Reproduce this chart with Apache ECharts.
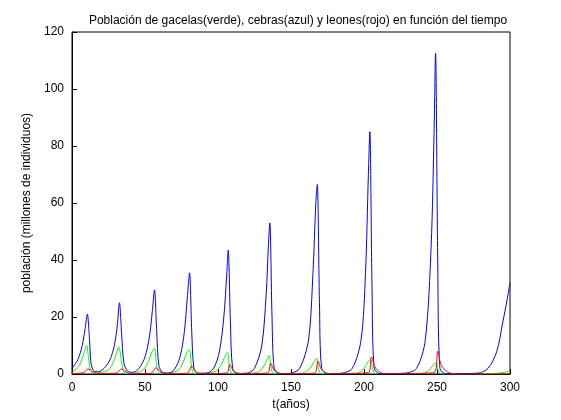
<!DOCTYPE html>
<html>
<head>
<meta charset="utf-8">
<script src="https://cdn.jsdelivr.net/npm/echarts@6/dist/echarts.min.js"></script>
<style>html,body{margin:0;padding:0;background:#fff}#chart{width:561px;height:420px}</style>
</head>
<body>
<div id="chart"></div>
<script>
// values: [t, poblacion]
var cebras = [[0,2],[4,5],[7,10],[9,16],[10.5,21],[12,12],[13,4],[15,1],[18,0.8],[22,2],[26,5],[29,10],[31,17],[32.5,25],[34,14],[35.5,4],[38,1],[42,0.6],[46,2],[50,6],[53,13],[55,22],[56.5,29.5],[58,15],[59.5,3],[62,0.6],[66,0.3],[70,1.5],[74,6],[77,15],[79,27],[80.5,35.5],[82,15],[83.5,2],[86,0.3],[92,0.3],[97,2],[101,8],[104,20],[106,35],[107,43.5],[108.5,18],[110,2],[113,0.2],[120,0.3],[125,2],[130,10],[133,28],[134.5,45],[135.5,53],[137,20],[138.5,2],[142,0.1],[150,0.3],[156,2],[162,12],[165,35],[167,60],[168,66.5],[169.5,25],[171,2],[175,0.1],[185,0.3],[192,2],[198,12],[201,35],[203,70],[204,85],[205.5,30],[207,2],[211,0.1],[228,0.3],[236,2],[242,12],[246,45],[248,85],[249,112.5],[250.5,40],[252,2],[256,0.1],[278,0.3],[285,2],[291,8],[295,18],[298,26],[300,32]];
var gacelas = [[0,0.5],[5,3],[8,7],[10,10],[11.5,5],[13,1],[16,0.3],[25,1.5],[29,5],[32,9.5],[34,4],[36,0.5],[40,0.1],[48,1.2],[52,4],[55,8],[56.5,9],[58,3],[60,0.3],[72,1],[76,4],[79,8],[80.5,8.5],[82,2],[84,0.1],[98,0.8],[102,3],[105,6.5],[106.5,7.5],[108,2],[110,0.1],[127,0.5],[131,2.5],[134,5.5],[135,6.5],[136.5,2],[138,0.1],[158,0.3],[163,2],[166,4.5],[167.5,5.5],[169,1.5],[171,0.1],[195,0.3],[200,2],[203,4.5],[204.5,5],[206,1.5],[208,0.1],[240,0.2],[245,1.5],[248,3.5],[249.5,4],[251,1],[253,0],[290,0.2],[300,1]];
var leones = [[0,0.2],[8,0.5],[11,1.8],[14,0.8],[18,0.2],[30,0.3],[34,1.8],[37,0.7],[42,0.1],[54,0.2],[57.5,2.2],[61,0.6],[66,0.1],[79,0.3],[82,2.8],[85,0.6],[90,0.1],[106,0.4],[108,3.3],[111,0.8],[117,0.1],[134,0.4],[136,3.8],[139,1],[145,0.1],[166,0.3],[168.5,4.5],[171,1.5],[176,0.1],[203,0.5],[205,6],[208,2],[214,0.1],[248,0.5],[250.5,8],[253,3],[258,0.5],[265,0],[300,0]];

var chart = echarts.init(document.getElementById('chart'));
var txt = {color: '#000', fontFamily: 'Liberation Sans', fontSize: 12};

function linea(data, color) {
    return {type: 'line', data: data, showSymbol: false, smooth: 0.3, animation: false,
        lineStyle: {color: color, width: 1}};
}

chart.setOption({
    backgroundColor: '#fff',
    title: {text: 'Población de gacelas(verde), cebras(azul) y leones(rojo) en función del tiempo',
        left: 293, top: 10, textAlign: 'center',
        textStyle: {color: '#000', fontFamily: 'Liberation Sans', fontSize: 12, fontWeight: 'normal'}},
    grid: {left: 72, right: 51, top: 32, bottom: 46, show: true, borderColor: '#000', borderWidth: 1},
    xAxis: {type: 'value', min: 0, max: 300, interval: 50, name: 't(años)', nameLocation: 'middle', nameGap: 23,
        nameTextStyle: txt, axisLabel: txt,
        axisLine: {lineStyle: {color: '#000'}}, axisTick: {inside: true, lineStyle: {color: '#000'}},
        splitLine: {show: false}},
    yAxis: {type: 'value', min: 0, max: 120, interval: 20, name: 'población (millones de individuos)',
        nameLocation: 'middle', nameGap: 32, nameTextStyle: txt, axisLabel: txt,
        axisLine: {lineStyle: {color: '#000'}}, axisTick: {inside: true, lineStyle: {color: '#000'}},
        splitLine: {show: false}},
    series: [linea(gacelas, '#00ff00'), linea(cebras, '#0000ff'), linea(leones, '#ff0000')]
});
</script>
</body>
</html>
